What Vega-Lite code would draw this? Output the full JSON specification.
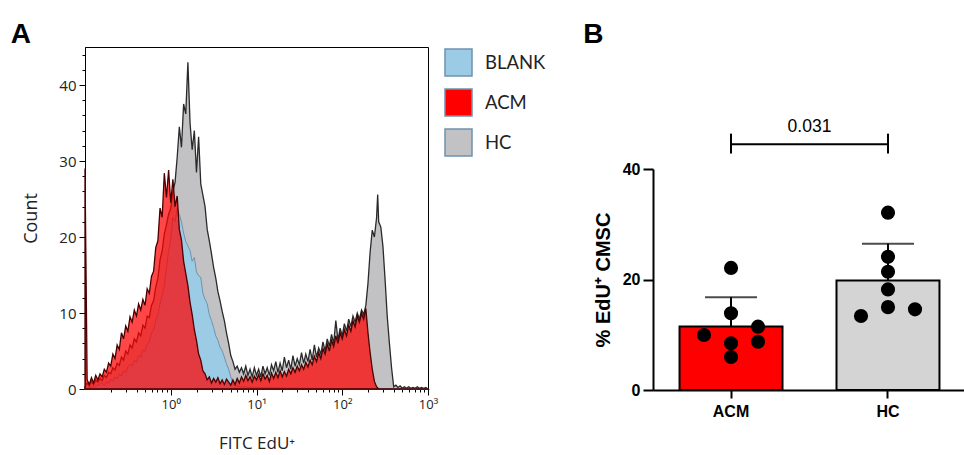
{
  "$schema": "https://vega.github.io/schema/vega-lite/v6.json",
  "background": "white",
  "padding": {"left": 10, "top": 20, "right": 0, "bottom": 0},
  "config": {"view": {"stroke": null}, "font": "Open Sans"},
  "datasets": {
    "hc": [
      {"x":0.1,"y":0.3},{"x":0.1059,"y":0.8},{"x":0.1122,"y":0.4},{"x":0.1189,"y":1.0},{"x":0.1259,"y":0.6},{"x":0.1334,"y":1.2},{"x":0.1413,"y":0.9},{"x":0.1496,"y":1.4},{"x":0.1585,"y":1.1},{"x":0.1679,"y":1.8},
      {"x":0.1778,"y":1.5},{"x":0.1884,"y":2.2},{"x":0.1995,"y":2.0},{"x":0.2113,"y":2.8},{"x":0.2239,"y":2.5},{"x":0.2371,"y":3.4},{"x":0.2512,"y":3.1},{"x":0.2661,"y":4.2},{"x":0.2818,"y":3.8},{"x":0.2985,"y":5.0},
      {"x":0.3162,"y":4.6},{"x":0.335,"y":5.8},{"x":0.3548,"y":5.4},{"x":0.3758,"y":6.6},{"x":0.3981,"y":6.2},{"x":0.4217,"y":7.4},{"x":0.4467,"y":7.0},{"x":0.4732,"y":8.4},{"x":0.5012,"y":8.0},{"x":0.5309,"y":9.6},
      {"x":0.5623,"y":9.4},{"x":0.5957,"y":11.0},{"x":0.631,"y":11.6},{"x":0.6683,"y":13.4},{"x":0.7079,"y":14.6},{"x":0.7499,"y":17.0},{"x":0.7943,"y":18.2},{"x":0.8414,"y":20.4},{"x":0.8913,"y":21.6},{"x":0.9441,"y":23.0},
      {"x":1.0,"y":23.8},{"x":1.059,"y":26.0},{"x":1.122,"y":27.2},{"x":1.189,"y":30.5},{"x":1.259,"y":34.5},{"x":1.334,"y":31.8},{"x":1.413,"y":37.5},{"x":1.496,"y":36.2},{"x":1.585,"y":43.0},{"x":1.679,"y":35.0},
      {"x":1.778,"y":31.5},{"x":1.884,"y":34.0},{"x":1.995,"y":28.5},{"x":2.113,"y":33.2},{"x":2.239,"y":27.0},{"x":2.371,"y":25.5},{"x":2.512,"y":24.0},{"x":2.661,"y":21.0},{"x":2.818,"y":19.5},{"x":2.985,"y":17.8},
      {"x":3.162,"y":16.0},{"x":3.35,"y":14.6},{"x":3.548,"y":12.8},{"x":3.758,"y":11.6},{"x":3.981,"y":10.2},{"x":4.217,"y":9.0},{"x":4.467,"y":7.4},{"x":4.732,"y":6.0},{"x":5.012,"y":4.4},{"x":5.309,"y":3.6},
      {"x":5.623,"y":2.6},{"x":5.957,"y":3.0},{"x":6.31,"y":2.2},{"x":6.683,"y":2.8},{"x":7.079,"y":2.0},{"x":7.499,"y":3.0},{"x":7.943,"y":1.8},{"x":8.414,"y":2.6},{"x":8.913,"y":1.6},{"x":9.441,"y":2.8},
      {"x":10,"y":1.8},{"x":10.59,"y":2.6},{"x":11.22,"y":1.6},{"x":11.89,"y":3.0},{"x":12.59,"y":2.0},{"x":13.34,"y":2.8},{"x":14.13,"y":1.8},{"x":14.96,"y":3.2},{"x":15.85,"y":2.4},{"x":16.79,"y":3.6},
      {"x":17.78,"y":2.2},{"x":18.84,"y":3.4},{"x":19.95,"y":2.4},{"x":21.13,"y":4.2},{"x":22.39,"y":2.8},{"x":23.71,"y":3.8},{"x":25.12,"y":2.6},{"x":26.61,"y":4.4},{"x":28.18,"y":3.0},{"x":29.85,"y":4.0},
      {"x":31.62,"y":3.2},{"x":33.5,"y":4.8},{"x":35.48,"y":3.4},{"x":37.58,"y":4.6},{"x":39.81,"y":3.6},{"x":42.17,"y":5.2},{"x":44.67,"y":3.8},{"x":47.32,"y":5.8},{"x":50.12,"y":4.2},{"x":53.09,"y":5.4},
      {"x":56.23,"y":4.6},{"x":59.57,"y":6.2},{"x":63.1,"y":5.0},{"x":66.83,"y":6.6},{"x":70.79,"y":5.6},{"x":74.99,"y":7.2},{"x":79.43,"y":6.0},{"x":84.14,"y":9.0},{"x":89.13,"y":6.4},{"x":94.41,"y":8.0},
      {"x":100,"y":7.0},{"x":105.9,"y":8.6},{"x":112.2,"y":7.6},{"x":118.9,"y":9.2},{"x":125.9,"y":8.2},{"x":133.4,"y":9.6},{"x":141.3,"y":8.8},{"x":149.6,"y":10.0},{"x":158.5,"y":9.2},{"x":167.9,"y":10.4},
      {"x":177.8,"y":9.8},{"x":188.4,"y":11.0},{"x":199.5,"y":13.9},{"x":211.3,"y":18.0},{"x":223.9,"y":20.9},{"x":237.1,"y":20.0},{"x":251.2,"y":22.5},{"x":259,"y":25.6},{"x":266.1,"y":22.0},{"x":281.8,"y":21.3},
      {"x":298.5,"y":18.7},{"x":316.2,"y":14.3},{"x":335,"y":9.5},{"x":354.8,"y":6.0},{"x":375.8,"y":2.8},{"x":398.1,"y":0.3},{"x":421.7,"y":0.5},{"x":446.7,"y":0.2},{"x":473.2,"y":0.4},{"x":501.2,"y":0.1},
      {"x":530.9,"y":0.3},{"x":562.3,"y":0.1},{"x":595.7,"y":0.3},{"x":631,"y":0.1},{"x":668.3,"y":0.2},{"x":707.9,"y":0.1},{"x":749.9,"y":0.3},{"x":794.3,"y":0.1},{"x":841.4,"y":0.2},{"x":891.3,"y":0.1},
      {"x":944.1,"y":0.2},{"x":1000,"y":0}
    ],
    "blank": [
      {"x":0.1,"y":0},{"x":0.1259,"y":0.3},{"x":0.1413,"y":0.5},{"x":0.1585,"y":0.8},{"x":0.1679,"y":0.5},{"x":0.1778,"y":1.0},{"x":0.1884,"y":0.7},{"x":0.1995,"y":1.3},{"x":0.2113,"y":1.0},{"x":0.2239,"y":1.6},
      {"x":0.2371,"y":1.3},{"x":0.2512,"y":2.0},{"x":0.2661,"y":1.7},{"x":0.2818,"y":2.4},{"x":0.2985,"y":2.1},{"x":0.3162,"y":2.9},{"x":0.335,"y":3.3},{"x":0.3548,"y":3.0},{"x":0.3758,"y":3.8},{"x":0.3981,"y":3.5},
      {"x":0.4217,"y":4.4},{"x":0.4467,"y":4.2},{"x":0.4732,"y":5.2},{"x":0.5012,"y":5.0},{"x":0.5309,"y":5.9},{"x":0.5623,"y":6.2},{"x":0.5957,"y":7.4},{"x":0.631,"y":7.8},{"x":0.6683,"y":9.0},{"x":0.7079,"y":9.8},
      {"x":0.7499,"y":11.2},{"x":0.7943,"y":12.4},{"x":0.8414,"y":13.6},{"x":0.8913,"y":16.0},{"x":0.9441,"y":18.2},{"x":1.0,"y":19.6},{"x":1.059,"y":22.6},{"x":1.122,"y":22.0},{"x":1.189,"y":23.8},{"x":1.259,"y":23.0},
      {"x":1.334,"y":22.0},{"x":1.413,"y":20.5},{"x":1.496,"y":19.4},{"x":1.585,"y":18.8},{"x":1.679,"y":18.2},{"x":1.778,"y":16.8},{"x":1.884,"y":17.3},{"x":1.995,"y":15.4},{"x":2.113,"y":14.9},{"x":2.239,"y":14.7},
      {"x":2.371,"y":12.6},{"x":2.512,"y":11.8},{"x":2.661,"y":11.2},{"x":2.818,"y":9.8},{"x":2.985,"y":9.0},{"x":3.162,"y":8.1},{"x":3.35,"y":7.0},{"x":3.548,"y":6.4},{"x":3.758,"y":5.5},{"x":3.981,"y":5.0},
      {"x":4.217,"y":4.2},{"x":4.467,"y":3.3},{"x":4.732,"y":2.6},{"x":5.012,"y":1.6},{"x":5.309,"y":0.7},{"x":5.623,"y":0.4},{"x":6.31,"y":0.3},{"x":10,"y":0.2},{"x":31.62,"y":0.1},{"x":1000,"y":0}
    ],
    "acm": [
      {"x":0.1,"y":29},{"x":0.1059,"y":1.2},{"x":0.1122,"y":0.6},{"x":0.1189,"y":1.5},{"x":0.1259,"y":0.8},{"x":0.1334,"y":1.8},{"x":0.1413,"y":1.2},{"x":0.1496,"y":2.0},{"x":0.1585,"y":1.6},{"x":0.1679,"y":2.6},
      {"x":0.1778,"y":2.2},{"x":0.1884,"y":3.4},{"x":0.1995,"y":3.0},{"x":0.2113,"y":4.6},{"x":0.2239,"y":4.0},{"x":0.2371,"y":5.8},{"x":0.2512,"y":5.2},{"x":0.2661,"y":7.4},{"x":0.2818,"y":6.6},{"x":0.2985,"y":8.3},
      {"x":0.3162,"y":7.6},{"x":0.335,"y":9.5},{"x":0.3548,"y":8.8},{"x":0.3758,"y":10.4},{"x":0.3981,"y":9.6},{"x":0.4217,"y":11.2},{"x":0.4467,"y":10.4},{"x":0.4732,"y":11.8},{"x":0.5012,"y":11.0},{"x":0.5309,"y":13.2},
      {"x":0.5623,"y":12.6},{"x":0.5957,"y":14.8},{"x":0.631,"y":15.5},{"x":0.6683,"y":18.6},{"x":0.7079,"y":19.5},{"x":0.7499,"y":23.8},{"x":0.7943,"y":22.6},{"x":0.8414,"y":28.4},{"x":0.8913,"y":25.2},{"x":0.9441,"y":28.8},
      {"x":1.0,"y":24.5},{"x":1.059,"y":27.6},{"x":1.122,"y":24.0},{"x":1.189,"y":25.4},{"x":1.259,"y":21.0},{"x":1.334,"y":19.6},{"x":1.413,"y":16.8},{"x":1.496,"y":15.2},{"x":1.585,"y":13.6},{"x":1.679,"y":11.4},
      {"x":1.778,"y":9.8},{"x":1.884,"y":7.8},{"x":1.995,"y":6.4},{"x":2.113,"y":4.6},{"x":2.239,"y":3.8},{"x":2.371,"y":2.4},{"x":2.512,"y":2.0},{"x":2.661,"y":1.2},{"x":2.818,"y":1.6},{"x":2.985,"y":0.8},
      {"x":3.162,"y":1.4},{"x":3.35,"y":0.9},{"x":3.548,"y":1.5},{"x":3.758,"y":0.7},{"x":3.981,"y":1.2},{"x":4.217,"y":0.6},{"x":4.467,"y":1.3},{"x":4.732,"y":0.9},{"x":5.012,"y":0.5},{"x":5.309,"y":1.2},
      {"x":5.623,"y":0.6},{"x":5.957,"y":1.4},{"x":6.31,"y":0.8},{"x":6.683,"y":1.6},{"x":7.079,"y":1.0},{"x":7.499,"y":1.8},{"x":7.943,"y":1.1},{"x":8.414,"y":1.6},{"x":8.913,"y":0.9},{"x":9.441,"y":1.7},
      {"x":10,"y":1.2},{"x":10.59,"y":1.9},{"x":11.22,"y":1.1},{"x":11.89,"y":2.0},{"x":12.59,"y":1.3},{"x":13.34,"y":1.8},{"x":14.13,"y":1.0},{"x":14.96,"y":2.1},{"x":15.85,"y":1.4},{"x":16.79,"y":2.2},
      {"x":17.78,"y":1.5},{"x":18.84,"y":2.4},{"x":19.95,"y":1.6},{"x":21.13,"y":2.3},{"x":22.39,"y":1.7},{"x":23.71,"y":2.6},{"x":25.12,"y":2.0},{"x":26.61,"y":2.8},{"x":28.18,"y":2.2},{"x":29.85,"y":3.0},
      {"x":31.62,"y":2.4},{"x":33.5,"y":3.2},{"x":35.48,"y":2.6},{"x":37.58,"y":3.5},{"x":39.81,"y":2.9},{"x":42.17,"y":3.8},{"x":44.67,"y":3.2},{"x":47.32,"y":4.3},{"x":50.12,"y":3.6},{"x":53.09,"y":4.8},
      {"x":56.23,"y":4.0},{"x":59.57,"y":5.3},{"x":63.1,"y":4.6},{"x":66.83,"y":5.9},{"x":70.79,"y":5.0},{"x":74.99,"y":6.4},{"x":79.43,"y":5.6},{"x":84.14,"y":7.0},{"x":89.13,"y":6.0},{"x":94.41,"y":7.4},
      {"x":100,"y":6.6},{"x":105.9,"y":7.8},{"x":112.2,"y":7.0},{"x":118.9,"y":8.4},{"x":125.9,"y":7.6},{"x":133.4,"y":9.0},{"x":141.3,"y":8.2},{"x":149.6,"y":9.6},{"x":158.5,"y":8.8},{"x":167.9,"y":10.0},
      {"x":177.8,"y":9.2},{"x":188.4,"y":10.6},{"x":199.5,"y":7.4},{"x":211.3,"y":4.8},{"x":223.9,"y":2.6},{"x":237.1,"y":1.0},{"x":251.2,"y":0.3},{"x":266.1,"y":0},{"x":1000,"y":0}
    ],
    "pts": [
      {"g":"ACM","v":22.1,"j":"C"},{"g":"ACM","v":13.9,"j":"C"},{"g":"ACM","v":9.95,"j":"L"},{"g":"ACM","v":11.46,"j":"R"},{"g":"ACM","v":8.45,"j":"C"},{"g":"ACM","v":8.74,"j":"R"},{"g":"ACM","v":5.97,"j":"C"},
      {"g":"HC","v":32.1,"j":"C"},{"g":"HC","v":24.1,"j":"C"},{"g":"HC","v":21.4,"j":"C"},{"g":"HC","v":18.2,"j":"C"},{"g":"HC","v":15.0,"j":"C"},{"g":"HC","v":13.4,"j":"L"},{"g":"HC","v":14.6,"j":"R"}
    ],
    "br": [{"a":"ACM","b":"HC","y":44.5,"ty":47.6,"t":"0.031"}],
    "brk": [{"g":"ACM","lo":42.8,"hi":46.4},{"g":"HC","lo":42.8,"hi":46.4}]
  },
  "spacing": 36,
  "resolve": {"scale": {"color": "independent", "x": "independent", "y": "independent"}, "legend": {"color": "independent"}},
  "hconcat": [
    {
      "width": 343,
      "height": 342,
      "view": {"stroke": "#000", "strokeWidth": 1},
      "title": {"text": "A", "anchor": "start", "frame": "bounds", "font": "Liberation Sans", "fontSize": 28, "fontWeight": "bold", "color": "#000", "offset": -2, "dx": -12},
      "resolve": {"axis": {"x": "independent", "y": "independent"}},
      "layer": [
        {
          "data": {"name": "hc"},
          "mark": {"type": "area", "stroke": "#2a2a2a", "strokeWidth": 1.3},
          "encoding": {
            "x": {"field": "x", "type": "quantitative", "scale": {"type": "log", "domain": [0.1, 1000], "nice": false},
              "axis": {"orient": "bottom", "values": [1, 10, 100, 1000],
                "labelExpr": "datum.value==1?'10⁰':datum.value==10?'10¹':datum.value==100?'10²':'10³'",
                "tickSize": 6, "grid": false, "domainColor": "#000", "tickColor": "#000", "labelColor": "#222", "labelFontSize": 13, "labelPadding": 3, "labelOverlap": false, "labelFlush": false,
                "title": "FITC EdU⁺", "titleFontSize": 17, "titleFontWeight": "normal", "titleColor": "#222", "titlePadding": 24}},
            "y": {"field": "y", "type": "quantitative", "scale": {"domain": [0, 45], "nice": false},
              "axis": {"orient": "left", "values": [0, 10, 20, 30, 40], "tickSize": 6,
                "grid": false, "domainColor": "#000", "tickColor": "#000", "labelColor": "#222", "labelFontSize": 15, "labelPadding": 3, "labelOverlap": false,
                "title": "Count", "titleFontSize": 18, "titleFontWeight": "normal", "titleColor": "#222", "titlePadding": 18}},
            "color": {"datum": "HC", "type": "nominal",
              "scale": {"domain": ["BLANK", "ACM", "HC"], "range": ["#9ccbe6", "#ff0000", "#c2c2c4"]},
              "legend": {"orient": "none", "legendX": 359, "legendY": 1, "title": null, "symbolType": "square", "symbolSize": 729,
                "symbolStrokeColor": "#3a3a3a", "symbolStrokeWidth": 1.5, "symbolOpacity": 1, "labelFont": "Lato", "labelFontSize": 18.5, "labelColor": "#222",
                "rowPadding": 7, "labelOffset": 12}}
          }
        },
        {
          "data": {"name": "blank"},
          "mark": {"type": "area", "stroke": "#6f93ad", "strokeWidth": 1},
          "encoding": {
            "x": {"field": "x", "type": "quantitative",
              "axis": {"orient": "bottom", "values": [0.2,0.3,0.4,0.5,0.6,0.7,0.8,0.9,2,3,4,5,6,7,8,9,20,30,40,50,60,70,80,90,200,300,400,500,600,700,800,900],
                "labels": false, "domain": false, "grid": false, "tickSize": 3, "tickColor": "#000", "title": null}},
            "y": {"field": "y", "type": "quantitative",
              "axis": {"orient": "left", "values": [2,4,6,8,12,14,16,18,22,24,26,28,32,34,36,38,42,44],
                "labels": false, "domain": false, "grid": false, "tickSize": 3, "tickColor": "#000", "title": null}},
            "color": {"datum": "BLANK", "type": "nominal"}
          }
        },
        {
          "data": {"name": "acm"},
          "mark": {"type": "area", "stroke": "#4a0000", "strokeWidth": 1.3},
          "encoding": {
            "x": {"field": "x", "type": "quantitative", "axis": null},
            "y": {"field": "y", "type": "quantitative", "axis": null},
            "color": {"datum": "ACM", "type": "nominal"},
            "fillOpacity": {"value": 0.72}
          }
        }
      ]
    },
    {
      "width": 313,
      "height": 343,
      "title": {"text": "B", "anchor": "start", "frame": "bounds", "font": "Liberation Sans", "fontSize": 28, "fontWeight": "bold", "color": "#000", "offset": -2, "dx": -10},
      "resolve": {"scale": {"x": "independent", "xOffset": "independent"}},
      "layer": [
        {
          "layer": [
            {
              "data": {"name": "pts"},
              "mark": {"type": "errorbar", "extent": "stdev", "ticks": {"size": 52, "thickness": 2, "color": "#000"}, "rule": {"strokeWidth": 2, "color": "#000"}},
              "encoding": {
                "x": {"field": "g", "type": "nominal", "scale": {"type": "band", "domain": ["ACM", "HC"], "paddingInner": 0.344, "paddingOuter": 0.169},
                  "axis": {"title": null, "labelAngle": 0, "domainColor": "#000", "domainWidth": 2, "tickColor": "#000", "tickWidth": 2, "tickSize": 8,
                    "labelFont": "Liberation Sans", "labelFontWeight": "bold", "labelFontSize": 16, "labelColor": "#000", "labelPadding": 5}},
                "y": {"field": "v", "type": "quantitative", "title": "% EdU⁺ CMSC", "scale": {"domain": [0, 40], "nice": false, "range": [343, 122]},
                  "axis": {"values": [0, 20, 40], "grid": false, "domainColor": "#000", "domainWidth": 2, "tickColor": "#000", "tickWidth": 2, "tickSize": 10,
                    "labelFont": "Liberation Sans", "labelFontWeight": "bold", "labelFontSize": 16, "labelColor": "#000", "labelPadding": 3,
                    "titleFont": "Liberation Sans", "titleFontWeight": "bold", "titleFontSize": 20, "titleColor": "#000", "titlePadding": 9}}
              }
            },
            {
              "data": {"name": "pts"},
              "mark": {"type": "bar", "stroke": "#000", "strokeWidth": 2, "width": {"band": 1}},
              "encoding": {
                "x": {"field": "g", "type": "nominal"},
                "y": {"aggregate": "mean", "field": "v", "type": "quantitative", "title": "% EdU⁺ CMSC"},
                "color": {"field": "g", "type": "nominal", "scale": {"domain": ["ACM", "HC"], "range": ["#ff0000", "#d4d4d4"]}, "legend": null}
              }
            },
            {
              "data": {"name": "br"},
              "mark": {"type": "rule", "color": "#000", "strokeWidth": 2},
              "encoding": {
                "x": {"field": "a", "type": "nominal"},
                "x2": {"field": "b"},
                "y": {"field": "y", "type": "quantitative", "title": "% EdU⁺ CMSC"}
              }
            },
            {
              "data": {"name": "brk"},
              "mark": {"type": "rule", "color": "#000", "strokeWidth": 2},
              "encoding": {
                "x": {"field": "g", "type": "nominal"},
                "y": {"field": "lo", "type": "quantitative", "title": "% EdU⁺ CMSC"},
                "y2": {"field": "hi"}
              }
            },
            {
              "data": {"name": "br"},
              "mark": {"type": "text", "font": "Liberation Sans", "fontSize": 17.5, "color": "#000", "dx": 78.5, "baseline": "middle"},
              "encoding": {
                "x": {"field": "a", "type": "nominal"},
                "y": {"field": "ty", "type": "quantitative", "title": "% EdU⁺ CMSC"},
                "text": {"field": "t"}
              }
            }
          ]
        },
        {
          "data": {"name": "pts"},
          "mark": {"type": "circle", "size": 200, "color": "#000", "opacity": 1},
          "encoding": {
            "x": {"field": "g", "type": "nominal", "scale": {"type": "band", "domain": ["ACM", "HC"], "paddingInner": 0.344, "paddingOuter": 0.169}, "axis": null},
            "xOffset": {"field": "j", "type": "nominal", "scale": {"type": "point", "domain": ["L", "C", "R"], "range": [24.5, 78.5], "padding": 0}},
            "y": {"field": "v", "type": "quantitative", "title": "% EdU⁺ CMSC"}
          }
        }
      ]
    }
  ]
}
